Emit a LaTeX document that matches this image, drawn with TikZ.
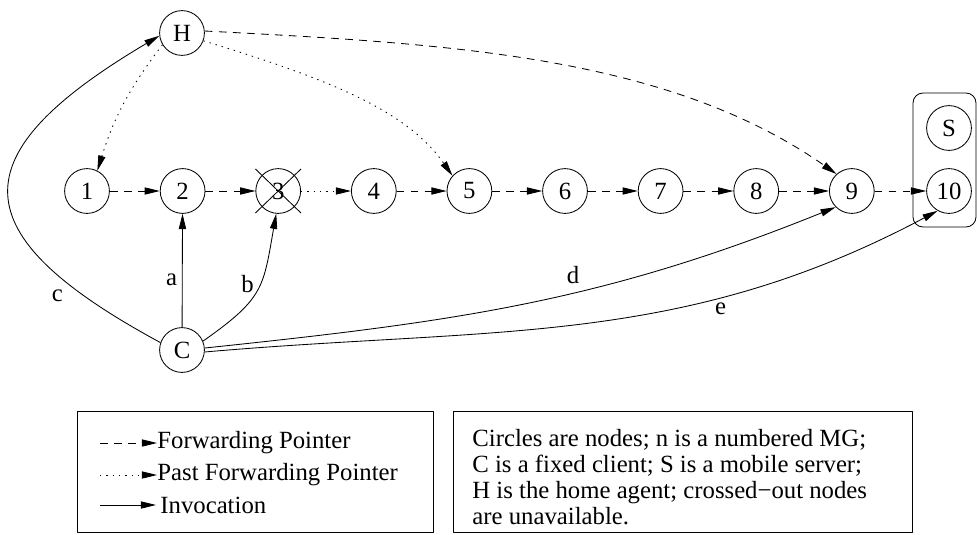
\documentclass[tikz,border=0pt]{standalone}
\usepackage{fontspec}
\setmainfont{Liberation Serif}
\usetikzlibrary{arrows.meta,positioning}
\tikzset{
	mg/.style={draw, circle, minimum size=1.12cm, inner sep=0pt},
	fwd/.style={->, dash pattern=on 5.5pt off 4.5pt},
	pastfwd/.style={->, dash pattern=on 1pt off 3.5pt},
	invoc/.style={->},
}
\begin{document}
\begin{tikzpicture}[font=\fontsize{17.6}{18.5}\selectfont, line width=0.6pt, line join=round,
		>={Triangle[length=3.8mm,width=1.8mm]}]
		\useasboundingbox (0,0) rectangle (24.425,13.35);
		\def\dx{2.39} \def\yrow{8.575}
		% chain of numbered MGs
		\foreach \i in {1,...,9} \node[mg] (n\i) at ({2.175+\dx*(\i-1)},\yrow) {\i};
		\node[mg] (n10) at (23.725,\yrow) {10};
		\node[mg] (S) at (23.725,10.15) {S};
		\node[mg] (H) at (4.55,12.525) {H};
		\node[mg] (C) at (4.55,4.6) {C};
		% mobile server box
		\draw[rounded corners=0.25cm] (22.825,7.675) rectangle (24.4,11.025);
		% node 3 is unavailable
		\draw ([shift={(-0.57,0.55)}]n3.center) -- ([shift={(0.57,-0.55)}]n3.center);
		\draw ([shift={(-0.57,-0.55)}]n3.center) -- ([shift={(0.57,0.55)}]n3.center);
		% forwarding pointers
		\draw[fwd] (n1) -- (n2);
		\draw[fwd] (n2) -- (n3);
		\draw[pastfwd] (n3) -- (n4);
		\foreach \i/\j in {4/5,5/6,6/7,7/8,8/9,9/10} \draw[fwd] (n\i) -- (n\j);
		\draw[pastfwd] (H.211) to[bend right=10] (n1.63);
		\draw[pastfwd] (H.-20) .. controls +(-17:3.3) and +(125:2) .. (n5.138);
		\draw[fwd] (H.5) .. controls +(-3:6) and +(145:5.2) .. (n9.132);
		% invocations
		\draw[invoc] (C.161) .. controls +(-5.03,2.72) and +(-5.01,-2.97) .. node[pos=0.15, left=11pt]{c} (H.187);
		\draw[invoc] (C) -- node[pos=0.42, left]{a} (n2);
		\draw[invoc] (C.23) to[out=35, in=-100, looseness=1.3] node[pos=0.55, left=1pt]{b} (n3.-95);
		\draw[invoc] (C.5) to[out=6, in=202] node[pos=0.58, above=3pt]{d} (n9.225);
		\draw[invoc] (C.-5) to[out=5, in=208] node[pos=0.7, below=1pt]{e} (n10.240);
		% legend
		\draw (1.925,0.05) rectangle (10.825,3.075);
		\node[anchor=west, inner sep=0pt] (lfwd) at (3.925,2.275) {Forwarding Pointer};
		\node[anchor=west, inner sep=0pt] (lpast) at (3.925,1.475) {Past Forwarding Pointer};
		\node[anchor=west, inner sep=0pt] (linv) at (4.0,0.725) {Invocation};
		\draw[fwd] ([xshift=-1.425cm]lfwd.west) -- (lfwd.west);
		\draw[pastfwd] ([xshift=-1.425cm]lpast.west) -- (lpast.west);
		\draw[invoc] ([xshift=-1.5cm]linv.west) -- ([xshift=-0.1cm]linv.west);
		\draw (11.325,0.05) rectangle (22.8,3.075);
		\node[anchor=north west, align=left, inner sep=0pt] (note) at (11.8,2.62)
			{Circles are nodes; n is a numbered MG;\\C is a fixed client; S is a mobile server;\\H is the home agent; crossed\textminus out nodes\\are unavailable.};
	\end{tikzpicture}
\end{document}
